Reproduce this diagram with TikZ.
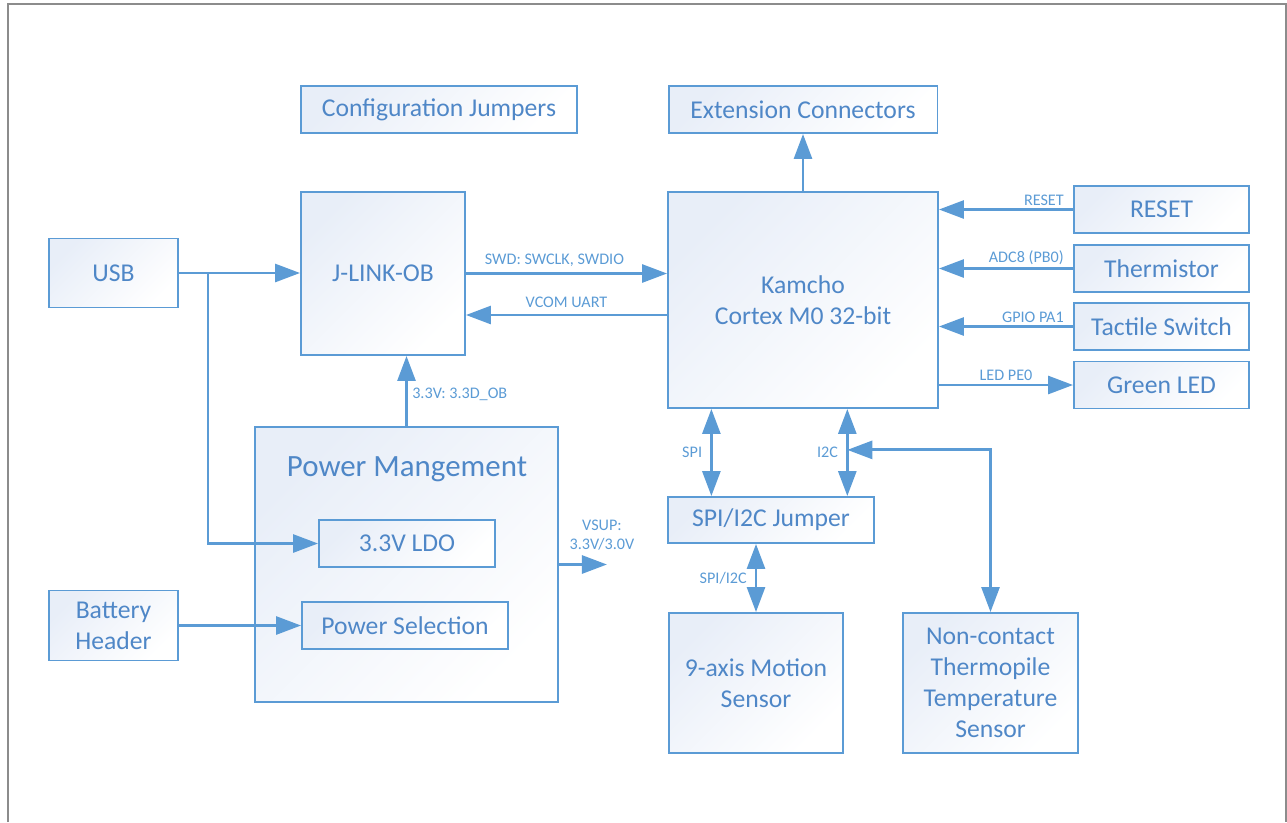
\documentclass[tikz,border=0pt]{standalone}
\usepackage{fontspec}
\setmainfont{Carlito}
\usetikzlibrary{
    arrows.meta,
    calc,
    positioning
}
\definecolor{cline}{HTML}{5B9BD5}
\definecolor{ctext}{HTML}{4F87C7}
\definecolor{cfill}{HTML}{E8EEF8}
\definecolor{cframe}{HTML}{8C8C8C}

\begin{document}
\begin{tikzpicture}[x=0.02cm, y=-0.02cm,
    >={Triangle[length=0.5cm, width=0.36cm]},
    box/.style={draw=cline, line width=1.1pt, top color=cfill, bottom color=white, shading angle=45,
        text=ctext, align=center, inner sep=0pt, font=\fontsize{14.6}{17.6}\selectfont},
    lbl/.style={text=cline, inner sep=1.5pt, font=\fontsize{9.2}{11}\selectfont},
    every path/.style={line width=1.6pt}]
    \useasboundingbox (0,0) rectangle (1287,822);
    \draw[cframe, line width=1.1pt] (8,822) -- (8,4) -- (1286,4) -- (1286,822);

    \node[box, minimum width=5.52cm, minimum height=0.94cm] (cfg) at (439,109.5) {Configuration Jumpers};
    \node[box, minimum width=5.38cm, minimum height=0.94cm] (ext) at (803,109.5) {Extension Connectors};
    \node[box, minimum width=2.58cm, minimum height=1.38cm] (usb) at (113.5,273) {USB};
    \node[box, minimum width=3.28cm, minimum height=3.26cm] (jlink) at (383,273.5) {J-LINK-OB};
    \node[box, minimum width=5.40cm, minimum height=4.32cm] (mcu) at (803,300) {Kamcho\\Cortex M0 32-bit};
    \node[box, minimum width=3.50cm, minimum height=0.94cm] (reset) at (1161.5,209.5) {RESET};
    \node[box, minimum width=3.50cm, minimum height=0.94cm] (therm) at (1161.5,268.5) {Thermistor};
    \node[box, minimum width=3.50cm, minimum height=0.94cm] (tact) at (1161.5,326.5) {Tactile Switch};
    \node[box, minimum width=3.50cm, minimum height=0.94cm] (led) at (1161.5,385) {Green LED};

    \node[box, minimum width=6.06cm, minimum height=5.50cm] (pwr) at (406.5,564.5) {};
    \node[text=ctext, font=\fontsize{17.6}{21}\selectfont] (pwrtitle) at (407,469) {Power Mangement};
    \node[box, minimum width=3.52cm, minimum height=0.94cm] (ldo) at (407,543.5) {3.3V LDO};
    \node[box, minimum width=4.12cm, minimum height=0.94cm] (sel) at (405,625.5) {Power Selection};
    \node[box, minimum width=2.58cm, minimum height=1.40cm] (bat) at (113.5,625.5) {Battery\\Header};

    \node[box, minimum width=4.12cm, minimum height=0.92cm] (jmp) at (771,520) {SPI/I2C Jumper};
    \node[box, minimum width=3.48cm, minimum height=2.80cm] (imu) at (756,683) {9-axis Motion\\Sensor};
    \node[box, minimum width=3.50cm, minimum height=2.80cm] (tps) at (990.5,683) {Non-contact\\Thermopile\\Temperature\\Sensor};

    \draw[cline, ->] (usb.east) -- (jlink.west |- usb.east);
    \coordinate (usbtap) at ($(usb.east)!0.24!(jlink.west |- usb.east)$);
    \draw[cline, ->] (usbtap) |- (ldo.west);
    \draw[cline, ->] (bat.east) -- (sel.west |- bat.east);
    \draw[cline, ->] (jlink.east) -- node[lbl, above=1.5pt, pos=0.44] {SWD: SWCLK, SWDIO} (mcu.west |- jlink.east);
    \coordinate (vcom) at ($(mcu.west)+(0,15)$);
    \draw[cline, ->] (vcom) -- node[lbl, above=2pt] {VCOM UART} (vcom -| jlink.east);
    \draw[cline, ->] (mcu.north) -- (ext.south);
    \draw[cline, ->] (pwr.north) -- node[lbl, right=1pt, pos=0.45] {3.3V: 3.3D\_OB} (pwr.north |- jlink.south);
    \draw[cline, ->] (pwr.east) -- ++(48,0) coordinate (vsup);
    \node[lbl, align=center, anchor=south] (vsuplbl) at ($(vsup)+(-5,-10)$) {VSUP:\\3.3V/3.0V};

    \draw[cline, ->] (reset.west) -- node[lbl, above left=0pt and 3pt, pos=0] {RESET} (reset.west -| mcu.east);
    \draw[cline, ->] (therm.west) -- node[lbl, above left=0pt and 3pt, pos=0] {ADC8 (PB0)} (therm.west -| mcu.east);
    \draw[cline, ->] (tact.west) -- node[lbl, above left=0pt and 3pt, pos=0] {GPIO PA1} (tact.west -| mcu.east);
    \draw[cline, ->] (mcu.east |- led.west) -- node[lbl, above] {LED PE0} (led.west);

    \coordinate (spitop) at ($(mcu.south west)!0.163!(mcu.south east)$);
    \draw[cline, <->] (spitop) -- node[lbl, left=3pt] {SPI} (spitop |- jmp.north);
    \coordinate (i2ctop) at ($(mcu.south west)!0.663!(mcu.south east)$);
    \draw[cline, <->] (i2ctop) -- node[lbl, left=3pt] {I2C} (i2ctop |- jmp.north);
    \coordinate (i2ctap) at ($(i2ctop)!0.47!(i2ctop |- jmp.north)$);
    \draw[cline, <->] (i2ctap) -| (tps.north);
    \draw[cline, <->] (imu.north |- jmp.south) -- node[lbl, left=3pt] {SPI/I2C} (imu.north);
\end{tikzpicture}
\end{document}
